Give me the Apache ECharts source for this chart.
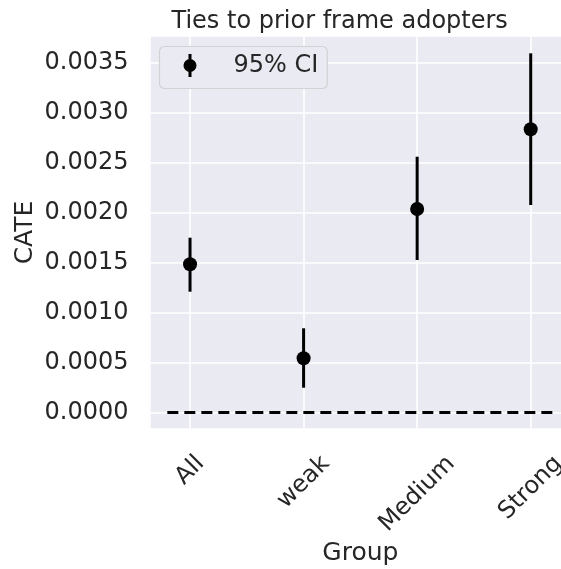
<!DOCTYPE html>
<html><head><meta charset="utf-8">
<script src="https://cdn.jsdelivr.net/npm/echarts@6/dist/echarts.min.js"></script>
<style>html,body{margin:0;padding:0;background:#fff}#c{width:561px;height:569px}</style>
</head><body><div id="c"></div>
<script>
// ---- data ----
const categories = ['All', 'weak', 'Medium', 'Strong'];
const cate   = [0.001482, 0.000542, 0.002035, 0.002832];
const ciLow  = [0.001208, 0.000248, 0.001525, 0.002075];
const ciHigh = [0.001748, 0.000842, 0.002558, 0.003592];
const zeroLineX = [-0.2, 3.2];
const zeroLineY = 0;
const yTickStep = 0.0005;

// ---- styling helpers ----
const FONT = 'DejaVu Sans';
const TXT = '#262626';
const ctx = document.createElement('canvas').getContext('2d');
ctx.font = '24px "DejaVu Sans"';
const rich = {};
categories.forEach((c, i) => {
  const w = ctx.measureText(c).width;
  rich['c' + i] = {fontFamily: FONT, fontSize: 24, color: TXT, padding: [w / 2, w / 2, 0, 0]};
});

const chart = echarts.init(document.getElementById('c'), null, {renderer: 'canvas'});
chart.setOption({
  animation: false,
  backgroundColor: '#ffffff',
  title: {
    text: 'Ties to prior frame adopters', left: 166.5, top: 5,
    textStyle: {fontFamily: FONT, fontSize: 24, fontWeight: 'normal', color: TXT}
  },
  legend: {
    data: ['95% CI'], left: 159.5, top: 46.5, selectedMode: false,
    padding: [7, 9, 11, 24], backgroundColor: '#eaeaf2', borderColor: '#d2d2d5', borderWidth: 1.2, borderRadius: 5,
    itemWidth: 13, itemHeight: 23,
    icon: 'path://M-1.5,-11.5L1.5,-11.5L1.5,11.5L-1.5,11.5Z M0,-6.5A6.5,6.5,0,1,1,0,6.5A6.5,6.5,0,1,1,0,-6.5Z',
    textStyle: {fontFamily: FONT, fontSize: 24, color: TXT, padding: [0, 0, 0, 32]}
  },
  grid: {
    left: 149.5, top: 36, bottom: 140, right: -10.25, show: true, backgroundColor: '#eaeaf2', borderWidth: 0,
    containLabel: false, outerBoundsMode: 'none'
  },
  xAxis: {
    type: 'value', min: -0.357, max: 3.357, minInterval: 1, maxInterval: 1,
    axisLine: {show: false}, axisTick: {show: false},
    splitLine: {show: true, lineStyle: {color: '#ffffff', width: 1.6}},
    axisLabel: {
      rotate: 45, align: 'center', verticalAlign: 'middle', margin: 31,
      showMinLabel: true, showMaxLabel: true,
      formatter: v => { const i = Math.round(v); return (Math.abs(v - i) < 1e-6 && categories[i] !== undefined) ? '{c' + i + '|' + categories[i] + '}' : ''; },
      rich: rich, fontFamily: FONT, fontSize: 24, color: TXT
    },
    name: 'Group', nameLocation: 'middle', nameGap: 112, nameMoveOverlap: false,
    nameTextStyle: {fontFamily: FONT, fontSize: 25, color: TXT}
  },
  yAxis: {
    type: 'value', min: -0.000165, max: 0.003765, minInterval: yTickStep, maxInterval: yTickStep,
    axisLine: {show: false}, axisTick: {show: false},
    splitLine: {show: true, lineStyle: {color: '#ffffff', width: 1.6}},
    axisLabel: {
      margin: 21, fontFamily: FONT, fontSize: 24, color: TXT, showMinLabel: true, showMaxLabel: true,
      formatter: v => { const k = v / yTickStep; return Math.abs(k - Math.round(k)) < 1e-6 ? (Math.round(k) * yTickStep).toFixed(4) : ''; }
    },
    name: 'CATE', nameLocation: 'middle', nameRotate: 90, nameGap: 112, nameMoveOverlap: false,
    nameTextStyle: {fontFamily: FONT, fontSize: 25, color: TXT}
  },
  series: [
    {
      type: 'line', name: 'zero', silent: true, symbol: 'none', z: 2,
      data: zeroLineX.map(x => [x, zeroLineY]),
      lineStyle: {color: '#000', width: 3, type: [11, 6]}
    },
    {
      type: 'custom', name: 'ci', silent: true, z: 3,
      data: categories.map((c, i) => [i, ciLow[i], ciHigh[i]]),
      encode: {x: 0, y: [1, 2]},
      renderItem: (params, api) => {
        const x = api.value(0);
        const a = api.coord([x, api.value(1)]);
        const b = api.coord([x, api.value(2)]);
        return {type: 'line', shape: {x1: a[0], y1: a[1], x2: b[0], y2: b[1]}, style: {stroke: '#000', lineWidth: 3}};
      }
    },
    {
      type: 'scatter', name: '95% CI', z: 4, silent: true,
      data: categories.map((c, i) => [i, cate[i]]),
      symbolSize: 14, itemStyle: {color: '#000', opacity: 1}
    }
  ]
});
</script></body></html>
